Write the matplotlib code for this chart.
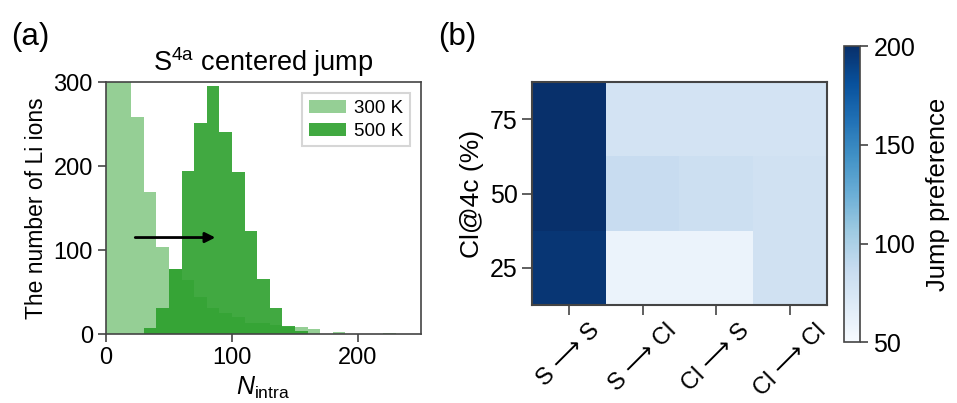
import numpy as np
import matplotlib
matplotlib.use('Agg')
import matplotlib.pyplot as plt
from matplotlib.colors import Normalize

plt.rcParams['font.family'] = ['Liberation Sans', 'DejaVu Sans']
plt.rcParams['mathtext.fontset'] = 'custom'
plt.rcParams['mathtext.rm'] = 'Liberation Sans'
plt.rcParams['mathtext.it'] = 'Liberation Sans:italic'

## panel (a): histogram counts, bins of width 10 starting at 0
bin_edges = np.arange(0, 240, 10)
counts_300K = [340, 320, 258, 169, 104, 77, 64, 44, 31, 25, 20, 13, 13, 11, 9, 9, 6, 0, 2, 0, 0, 0, 1]
counts_500K = [0, 0, 0, 7, 31, 78, 194, 252, 295, 241, 193, 123, 66, 31, 10, 4, 0, 0, 0, 0, 0, 0, 0]

## panel (b): jump preference heatmap
jump_types = ['S \u27f6 S', 'S \u27f6 Cl', 'Cl \u27f6 S', 'Cl \u27f6 Cl']
cl_fraction = [25, 50, 75]
preference = np.array([
    [196, 59, 59, 80],   # 25 %
    [200, 86, 83, 80],   # 50 %
    [200, 78, 78, 78],   # 75 %
])

green = '#2ca02c'
spine_col = '#444444'

fig = plt.figure(figsize=(9.57, 4.03), dpi=100)

ax1 = fig.add_axes([0.1108, 0.171, 0.329, 0.625])
ax1.bar(bin_edges[:-1], counts_300K, width=10, align='edge', color=green, alpha=0.5,
        linewidth=0, label='300 K')
ax1.bar(bin_edges[:-1], counts_500K, width=10, align='edge', color=green, alpha=0.9,
        linewidth=0, label='500 K')
ax1.annotate('', xy=(89, 115), xytext=(21, 115),
             arrowprops=dict(arrowstyle='-|>', color='black', lw=2, mutation_scale=15))
ax1.set_xlim(0, 250)
ax1.set_ylim(0, 300)
ax1.set_xticks([0, 100, 200])
ax1.set_yticks([0, 100, 200, 300])
ax1.tick_params(labelsize=17, length=6, width=1.2, color=spine_col)
for s in ax1.spines.values():
    s.set_color(spine_col)
    s.set_linewidth(1.2)
ax1.set_xlabel(r'$\mathit{N}_{\mathregular{intra}}$', fontsize=18, labelpad=4)
ax1.set_ylabel('The number of Li ions', fontsize=16.5)
ax1.set_title(r'S$^{\mathregular{4a}}$ centered jump', fontsize=19.5, pad=8)
leg = ax1.legend(loc='upper right', fontsize=13.5, fancybox=False, edgecolor='#cccccc',
                 handlelength=2.0, handletextpad=0.4, borderpad=0.35, labelspacing=0.3,
                 borderaxespad=0.6)
leg.get_frame().set_linewidth(1.5)

ax2 = fig.add_axes([0.556, 0.243, 0.308, 0.553])
norm = Normalize(vmin=50, vmax=200)
x_edges = np.arange(len(jump_types) + 1)
y_edges = np.array([12.5, 37.5, 62.5, 87.5])
mesh = ax2.pcolormesh(x_edges, y_edges, preference, cmap='Blues', norm=norm)
ax2.set_xticks(np.arange(len(jump_types)) + 0.5)
ax2.set_xticklabels(jump_types, rotation=45, fontsize=17)
ax2.set_yticks(cl_fraction)
ax2.tick_params(axis='y', labelsize=18)
ax2.tick_params(length=7, width=1.2, color=spine_col)
ax2.set_ylabel('Cl@4c (%)', fontsize=19)
for s in ax2.spines.values():
    s.set_color(spine_col)
    s.set_linewidth(1.5)

cax = fig.add_axes([0.882, 0.151, 0.0167, 0.734])
cb = fig.colorbar(mesh, cax=cax, ticks=[50, 100, 150, 200])
cb.ax.tick_params(labelsize=18, length=6, width=1.2, color=spine_col)
cb.outline.set_edgecolor(spine_col)
cb.outline.set_linewidth(1.2)
cb.set_label('Jump preference', fontsize=18.5, labelpad=8)

fig.text(0.012, 0.945, '(a)', fontsize=22.5, va='top')
fig.text(0.458, 0.945, '(b)', fontsize=22.5, va='top')

fig.savefig('out.png', dpi=100)
